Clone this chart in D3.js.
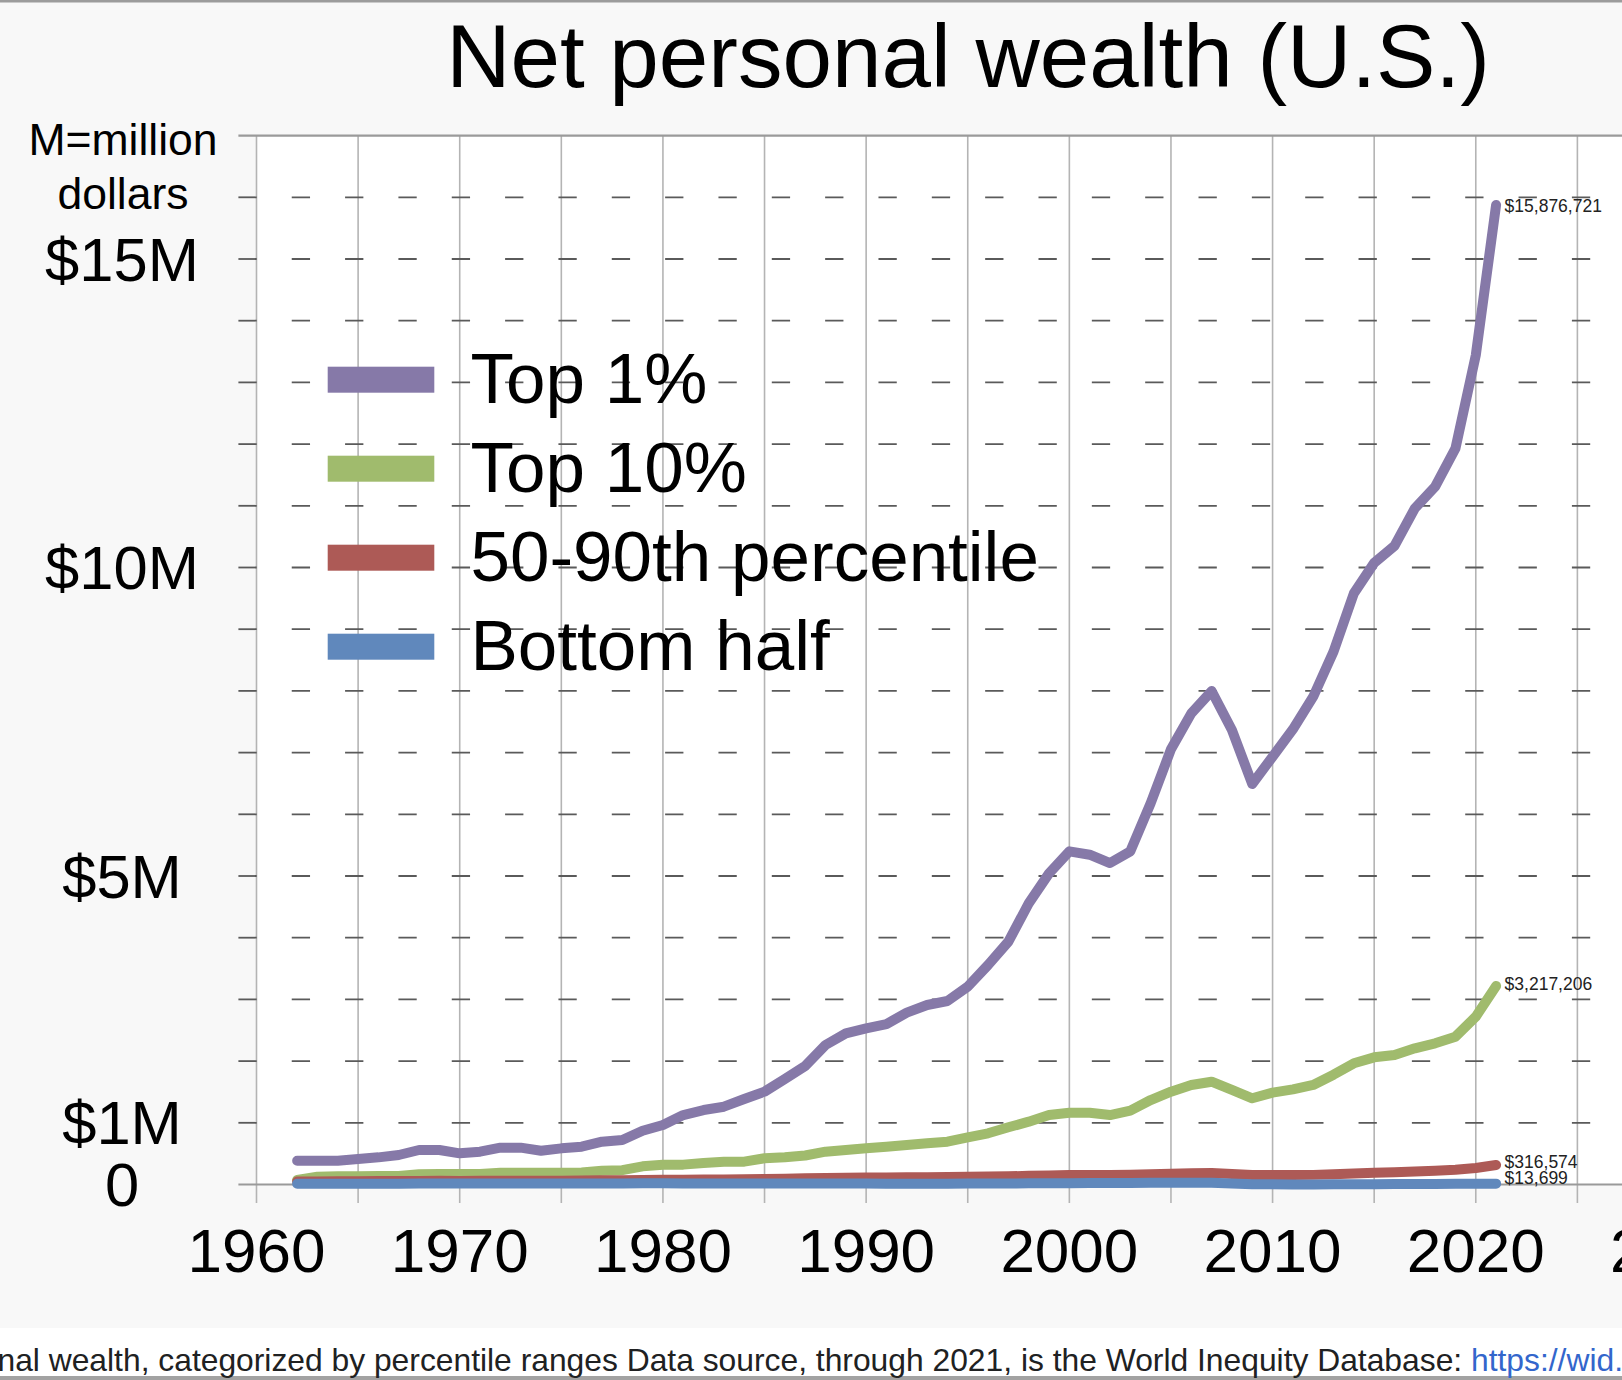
<!DOCTYPE html>
<html>
<head>
<meta charset="utf-8">
<script src="https://cdn.jsdelivr.net/npm/d3@7"></script>
<style>
  html, body { margin: 0; padding: 0; background: #fff; overflow: hidden; }
  svg { display: block; font-family: "Liberation Sans", Arial, sans-serif; }
</style>
</head>
<body>
<div id="chart"></div>
<script>
// values in millions of dollars
const years = d3.range(1962, 2022)

const top1 = [
  0.386, 0.386, 0.386, 0.413, 0.44, 0.478, 0.559, 0.559, 0.505, 0.532,
  0.597, 0.597, 0.548, 0.586, 0.613, 0.694, 0.721, 0.872, 0.964, 1.126,
  1.207, 1.261, 1.386, 1.505, 1.71, 1.921, 2.261, 2.45, 2.531, 2.601,
  2.785, 2.909, 2.974, 3.206, 3.558, 3.936, 4.557, 5.043, 5.40, 5.345,
  5.21, 5.40, 6.178, 7.053, 7.636, 7.998, 7.366, 6.491, 6.934, 7.377,
  7.906, 8.636, 9.581, 10.075, 10.35, 10.959, 11.31, 11.93, 13.44, 15.876721
]
const top10 = [
  0.075, 0.126, 0.135, 0.135, 0.136, 0.138, 0.168, 0.17, 0.17, 0.172,
  0.19, 0.19, 0.19, 0.19, 0.195, 0.222, 0.232, 0.295, 0.32, 0.322,
  0.35, 0.368, 0.37, 0.425, 0.44, 0.47, 0.532, 0.559, 0.586, 0.613,
  0.64, 0.667, 0.694, 0.765, 0.83, 0.927, 1.018, 1.126, 1.164, 1.164,
  1.126, 1.197, 1.369, 1.505, 1.613, 1.666, 1.532, 1.397, 1.488, 1.542,
  1.613, 1.78, 1.964, 2.061, 2.099, 2.207, 2.288, 2.396, 2.72, 3.217206
]
const mid40 = [
  0.05, 0.05, 0.052, 0.053, 0.055, 0.056, 0.058, 0.059, 0.058, 0.059,
  0.062, 0.062, 0.061, 0.062, 0.064, 0.067, 0.069, 0.073, 0.075, 0.077,
  0.08, 0.082, 0.085, 0.09, 0.095, 0.1, 0.105, 0.11, 0.112, 0.114,
  0.117, 0.119, 0.121, 0.125, 0.128, 0.133, 0.14, 0.147, 0.152, 0.155,
  0.155, 0.158, 0.167, 0.175, 0.182, 0.187, 0.17, 0.155, 0.153, 0.154,
  0.156, 0.165, 0.178, 0.19, 0.2, 0.212, 0.224, 0.24, 0.268, 0.316574
]
const bottom50 = [
  0.012, 0.012, 0.013, 0.013, 0.014, 0.014, 0.015, 0.015, 0.015, 0.015,
  0.016, 0.016, 0.015, 0.015, 0.016, 0.017, 0.018, 0.019, 0.019, 0.018,
  0.018, 0.017, 0.017, 0.017, 0.016, 0.016, 0.016, 0.016, 0.015, 0.014,
  0.014, 0.014, 0.014, 0.015, 0.016, 0.017, 0.019, 0.021, 0.022, 0.023,
  0.023, 0.024, 0.027, 0.029, 0.03, 0.029, 0.018, 0.006, 0.003, 0.002,
  0.002, 0.003, 0.004, 0.006, 0.007, 0.009, 0.01, 0.011, 0.012, 0.013699
]

const seriesNames = ["Top 1%", "Top 10%", "50-90th percentile", "Bottom half"]
const seriesValues = [top1, top10, mid40, bottom50]
const seriesColors = ["#8679a8", "#a0bb6d", "#ad5a56", "#6088bc"]

const yTickValues = [0, 1, 5, 10, 15]
const yTickLabels = ["0", "$1M", "$5M", "$10M", "$15M"]
const xTickValues = [1960, 1970, 1980, 1990, 2000, 2010, 2020, 2030]

const title = "Net personal wealth (U.S.)"
const unitLines = ["M=million", "dollars"]
const caption = "Net personal wealth, categorized by percentile ranges Data source, through 2021, is the World Inequity Database: "
const captionLink = "https://wid.world"

const dimensions = {
  width: 1622,
  height: 1380,
  margin: { top: 135.6, right: 0, bottom: 195.5, left: 256.5 },
}

const svg = d3.select("#chart").append("svg")
  .attr("width", dimensions.width)
  .attr("height", dimensions.height)

// backgrounds
svg.append("rect").attr("width", dimensions.width).attr("height", 1328).attr("fill", "#f8f8f8")
svg.append("rect").attr("y", 0).attr("width", dimensions.width).attr("height", 2.5).attr("fill", "#9c9c9c")
svg.append("rect").attr("y", 1376).attr("width", dimensions.width).attr("height", 4).attr("fill", "#a2a2a2")

const xScale = d3.scaleLinear()
  .domain([1960, 2030])
  .range([dimensions.margin.left, 1679])

const yScale = d3.scaleLinear()
  .domain([0, 17])
  .range([dimensions.height - dimensions.margin.bottom, dimensions.margin.top])

// plot area
svg.append("rect")
  .attr("x", xScale(1960))
  .attr("y", yScale(17))
  .attr("width", dimensions.width - xScale(1960))
  .attr("height", yScale(0) - yScale(17))
  .attr("fill", "#fff")

// vertical grid every 5 years
svg.append("g").selectAll("line")
  .data(d3.range(1960, 2031, 5))
  .join("line")
    .attr("x1", d => xScale(d)).attr("x2", d => xScale(d))
    .attr("y1", yScale(17)).attr("y2", yScale(0) + 18.5)
    .attr("stroke", "#b4b4b4")
    .attr("stroke-width", 1.6)

// dashed horizontal grid every $1M
svg.append("g").selectAll("line")
  .data(d3.range(1, 17))
  .join("line")
    .attr("x1", 238.4).attr("x2", dimensions.width)
    .attr("y1", d => yScale(d)).attr("y2", d => yScale(d))
    .attr("stroke", "#5a5a5a")
    .attr("stroke-width", 1.8)
    .attr("stroke-dasharray", "18.3 35.04")

// solid top and zero lines
svg.append("g").selectAll("line")
  .data([0, 17])
  .join("line")
    .attr("x1", 238.4).attr("x2", dimensions.width)
    .attr("y1", d => yScale(d)).attr("y2", d => yScale(d))
    .attr("stroke", "#9a9a9a")
    .attr("stroke-width", 2.2)

// y labels
svg.append("g").selectAll("text")
  .data(yTickValues)
  .join("text")
    .attr("x", 122)
    .attr("y", d => yScale(d))
    .attr("dy", "0.35em")
    .attr("text-anchor", "middle")
    .style("font-size", "61.5px")
    .text((d, i) => yTickLabels[i])

svg.append("g").selectAll("text")
  .data(unitLines)
  .join("text")
    .attr("x", 123)
    .attr("y", (d, i) => 155 + i * 53.5)
    .attr("text-anchor", "middle")
    .style("font-size", "44.5px")
    .text(d => d)

// x labels
svg.append("g").selectAll("text")
  .data(xTickValues)
  .join("text")
    .attr("x", d => xScale(d))
    .attr("y", 1272)
    .attr("text-anchor", "middle")
    .style("font-size", "62px")
    .text(d => d)

// title
svg.append("text")
  .attr("x", 968)
  .attr("y", 87)
  .attr("text-anchor", "middle")
  .style("font-size", "89px")
  .text(title)

// lines
const line = d3.line()
  .x((d, i) => xScale(years[i]))
  .y(d => yScale(d))

const labelShift = [1, -2, -3, -5.5]

seriesValues.forEach((values, s) => {
  svg.append("path")
    .datum(values)
    .attr("d", line)
    .attr("fill", "none")
    .attr("stroke", seriesColors[s])
    .attr("stroke-width", 10)
    .attr("stroke-linecap", "round")
    .attr("stroke-linejoin", "round")
})

seriesValues.forEach((values, s) => {
  const last = values[values.length - 1]
  svg.append("text")
    .attr("x", xScale(years[years.length - 1]) + 8.5)
    .attr("y", yScale(last) + labelShift[s])
    .attr("dy", "0.35em")
    .style("font-size", "17.5px")
    .attr("fill", "#222")
    .text(d3.format("$,")(Math.round(last * 1e6)))
})

// legend
const legendGroup = svg.append("g")
seriesNames.forEach((name, i) => {
  const cy = 379.7 + i * 89
  legendGroup.append("rect")
    .attr("x", 327.7).attr("y", cy - 13)
    .attr("width", 106.6).attr("height", 26)
    .attr("fill", seriesColors[i])
  legendGroup.append("text")
    .attr("x", 470.5).attr("y", cy + 23.5)
    .style("font-size", "71px")
    .text(name)
})

// caption strip
const captionText = svg.append("text")
  .attr("y", 1371)
  .style("font-size", "31.8px")
  .attr("fill", "#202122")
const captionMain = captionText.append("tspan").text(caption)
captionText.append("tspan").attr("fill", "#3366cc").text(captionLink)
const mainWidth = captionMain.node().getComputedTextLength()
captionText.attr("x", 1471 - mainWidth)
</script>
</body>
</html>
